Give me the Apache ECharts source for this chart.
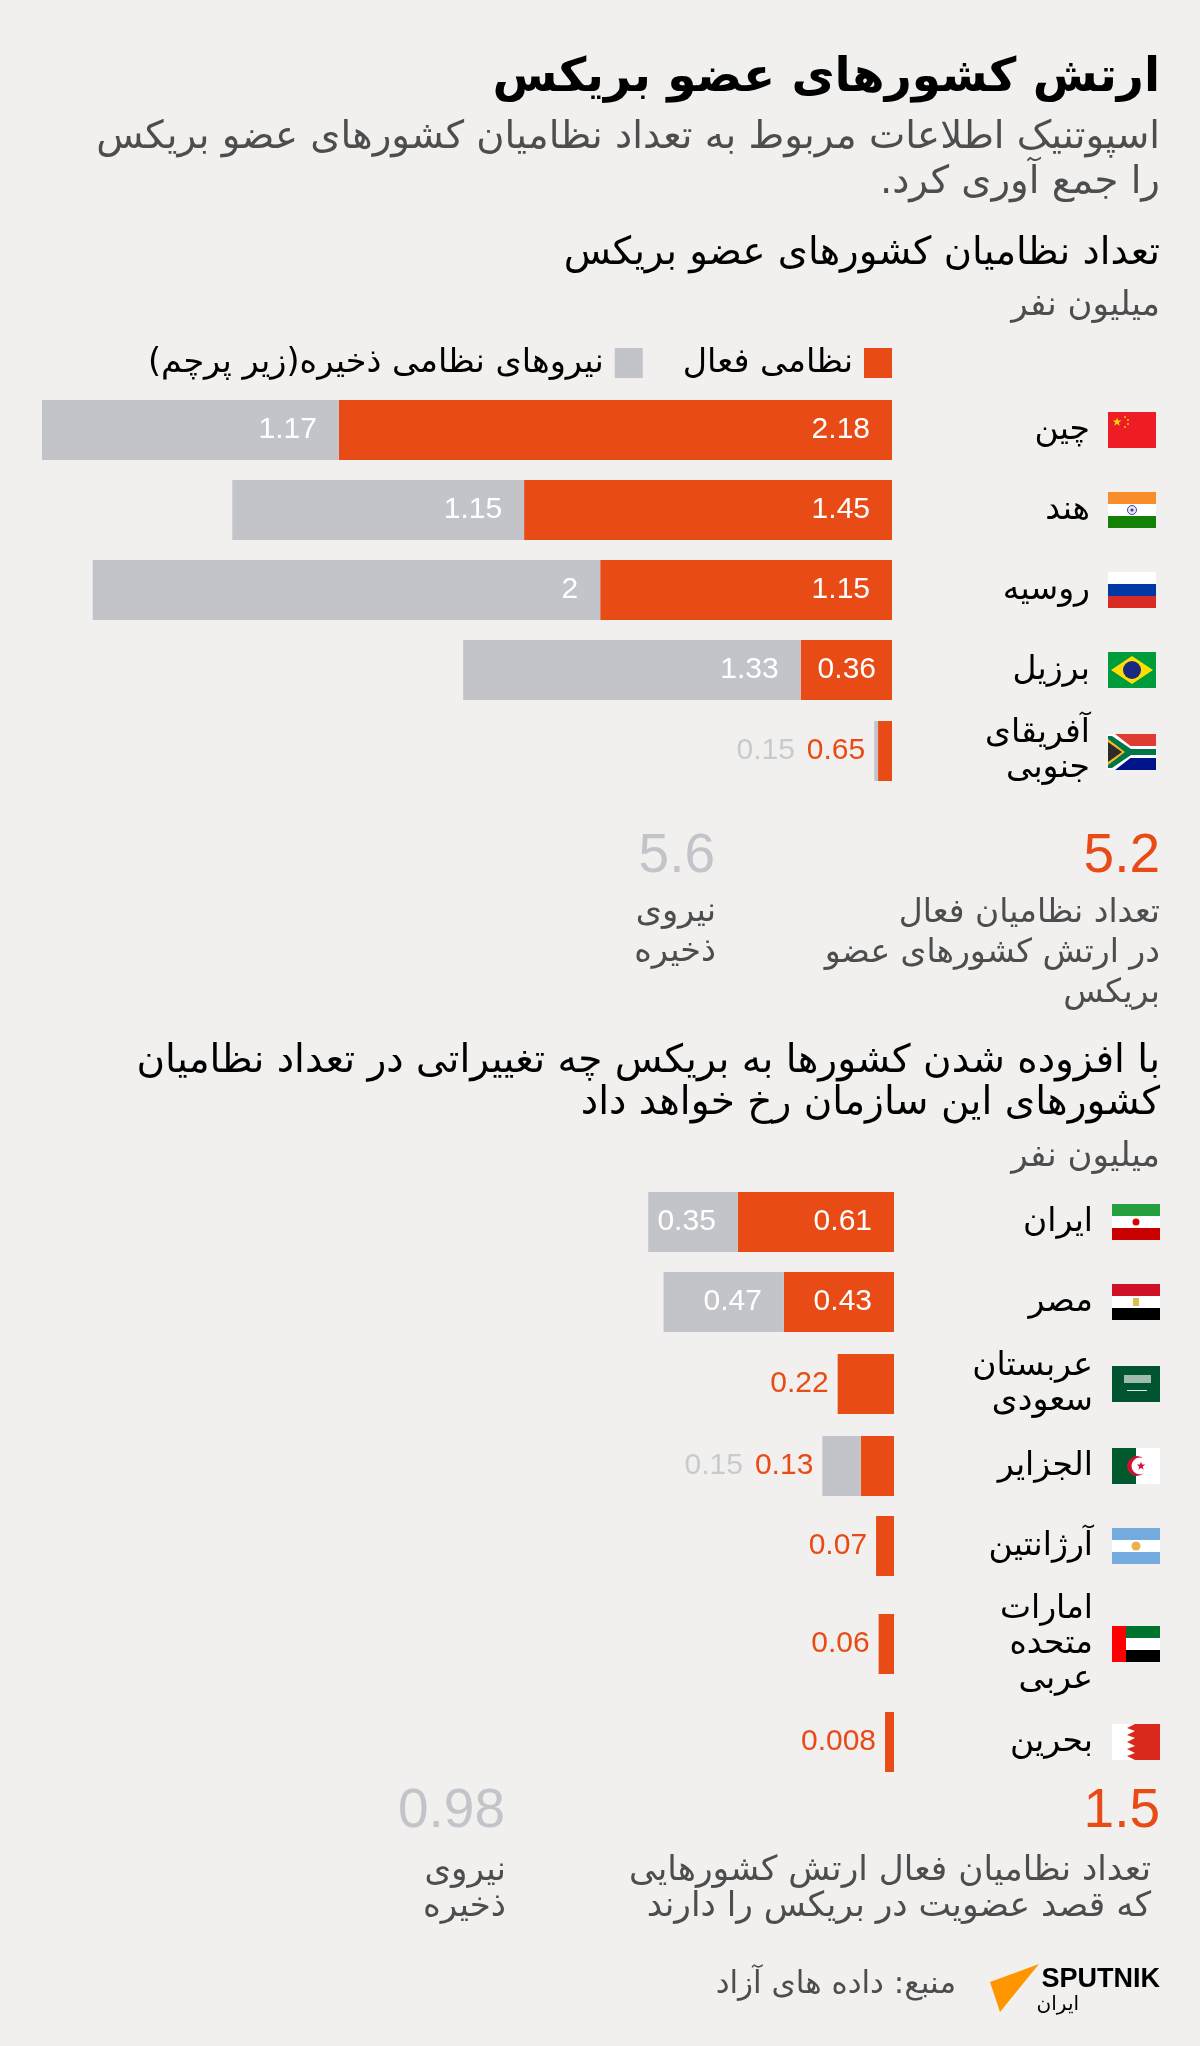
<!DOCTYPE html>
<html lang="fa" dir="rtl">
<head>
<meta charset="utf-8">
<title>ارتش کشورهای عضو بریکس</title>
<style>html,body{margin:0;padding:0;background:#f1f0ee;overflow:hidden}#c{width:1200px;height:2046px}</style>
<script src="https://cdn.jsdelivr.net/npm/echarts@6/dist/echarts.min.js"></script>
</head>
<body>
<div id="c"></div>
<script>
// ---------- data ----------
const membersNames = ['چین', 'هند', 'روسیه', 'برزیل', 'آفریقای\nجنوبی'];
const membersActive = [2.18, 1.45, 1.15, 0.36, 0.055];        // drawn bar length (South Africa is drawn far shorter than its printed label)
const membersReserve = [1.17, 1.15, 2, 1.33, 0.015];
const membersActiveLabels = ['2.18', '1.45', '1.15', '0.36', '0.65'];
const membersReserveLabels = ['1.17', '1.15', '2', '1.33', '0.15'];

const candidatesNames = ['ایران', 'مصر', 'عربستان\nسعودی', 'الجزایر', 'آرژانتین', 'امارات\nمتحده\nعربی', 'بحرین'];
const candidatesActive = [0.61, 0.43, 0.22, 0.13, 0.07, 0.06, 0.035]; // Bahrain is drawn longer than its printed label
const candidatesReserve = [0.35, 0.47, null, 0.15, null, null, null];
const candidatesActiveLabels = ['0.61', '0.43', '0.22', '0.13', '0.07', '0.06', '0.008'];
const candidatesReserveLabels = ['0.35', '0.47', '', '0.15', '', '', ''];

const activeName = 'نظامی فعال';
const reserveName = 'نیروهای نظامی ذخیره(زیر پرچم)';

// ---------- layout & style ----------
const ORANGE = '#e94b17', GREY = '#c3c4c9', LIGHT = '#c9cacd', INK = '#000', SOFT = '#4d4d4d', BG = '#f1f0ee';
const FONT = '"Liberation Sans","DejaVu Sans",sans-serif';
const AR = '"DejaVu Sans",sans-serif';
const PLOT_W = 850, BAR_H = 60;
const membersCenters = [430, 510, 590, 670, 751];
const candidatesCenters = [1222, 1302, 1384, 1466, 1546, 1644, 1742];
const membersInset = [22, 22, 22, 16, 22];

const grids = [], xAxes = [], yAxes = [], series = [];

function addRow(name, active, reserve, aLabel, rLabel, center, right, nameRight, inset, axisMax) {
  const i = grids.length;
  grids.push({ left: right - PLOT_W, top: center - BAR_H / 2, width: PLOT_W, height: BAR_H });
  xAxes.push({ type: 'value', gridIndex: i, inverse: true, min: 0, max: axisMax, show: false });
  yAxes.push({
    type: 'category', gridIndex: i, data: [name], position: 'right',
    axisLine: { show: false }, axisTick: { show: false }, splitLine: { show: false },
    axisLabel: { align: 'right', margin: nameRight - right, color: INK, fontFamily: AR, fontSize: 33, lineHeight: 35, interval: 0 }
  });
  const inside = v => v != null && v >= 0.3;
  const bothOutside = reserve != null && !inside(active) && !inside(reserve);
  series.push({
    type: 'bar', name: activeName, stack: 'r' + i, xAxisIndex: i, yAxisIndex: i, barWidth: BAR_H,
    itemStyle: { color: ORANGE }, silent: true,
    data: [active],
    label: {
      show: !bothOutside,
      position: inside(active) ? 'insideRight' : 'left',
      distance: inside(active) ? inset : 9,
      formatter: aLabel, color: inside(active) ? '#fff' : ORANGE, fontFamily: FONT, fontSize: 30
    }
  });
  series.push({
    type: 'bar', name: reserveName, stack: 'r' + i, xAxisIndex: i, yAxisIndex: i, barWidth: BAR_H,
    itemStyle: { color: GREY }, silent: true,
    data: [reserve],
    label: bothOutside ? {
      show: true, position: 'left', distance: 9,
      formatter: '{r|' + rLabel + '}{a|' + aLabel + '}',
      rich: {
        r: { color: LIGHT, fontFamily: FONT, fontSize: 30 },
        a: { color: ORANGE, fontFamily: FONT, fontSize: 30, padding: [0, 0, 0, 12] }
      }
    } : {
      show: reserve != null, position: 'insideRight', distance: 22,
      formatter: rLabel, color: '#fff', fontFamily: FONT, fontSize: 30
    }
  });
}
membersNames.forEach((n, i) => addRow(n, membersActive[i], membersReserve[i], membersActiveLabels[i], membersReserveLabels[i], membersCenters[i], 892, 1090, membersInset[i], 3.35));
candidatesNames.forEach((n, i) => addRow(n, candidatesActive[i], candidatesReserve[i], candidatesActiveLabels[i], candidatesReserveLabels[i], candidatesCenters[i], 894, 1093, 22, 3.32));

// ---------- flags (decorative, 48 x 36) ----------
const rect = (x, y, w, h, fill) => ({ type: 'rect', shape: { x, y, width: w, height: h }, style: { fill }, silent: true });
const poly = (points, fill, stroke, lw) => ({ type: 'polygon', shape: { points }, style: { fill, stroke, lineWidth: lw || 0 }, silent: true });
const circ = (cx, cy, r, fill, stroke, lw) => ({ type: 'circle', shape: { cx, cy, r }, style: { fill, stroke, lineWidth: lw || 0 }, silent: true });
function star(cx, cy, R, fill) {
  const p = [];
  for (let k = 0; k < 10; k++) {
    const r = k % 2 ? R * 0.4 : R, a = -Math.PI / 2 + k * Math.PI / 5;
    p.push([cx + r * Math.cos(a), cy + r * Math.sin(a)]);
  }
  return poly(p, fill);
}
const tri = (a, b, c, h) => [rect(0, 0, 48, h, a), rect(0, h, 48, 36 - 2 * h, b), rect(0, 36 - h, 48, h, c)];
const flags = {
  china: [rect(0, 0, 48, 36, '#ee1c25'), star(9, 10, 4.5, '#ffde00'), circ(17, 5, 0.9, '#ffde00'), circ(20, 8, 0.9, '#ffde00'), circ(20, 12, 0.9, '#ffde00'), circ(17, 15, 0.9, '#ffde00')],
  india: [...tri('#f98c2b', '#fff', '#138006', 12), circ(24, 18, 4.5, '#e8e8f4', '#3f3f9e', 1), circ(24, 18, 1.6, '#3f3f9e')],
  russia: tri('#fff', '#0039a6', '#d92b23', 12),
  brazil: [rect(0, 0, 48, 36, '#009b3a'), poly([[24, 4], [45, 18], [24, 32], [3, 18]], '#fedf00'), circ(24, 18, 9, '#1b2a80')],
  southAfrica: [rect(0, 0, 48, 18, '#e03c31'), rect(0, 18, 48, 18, '#001489'), rect(22, 12, 26, 12, '#fff'),
    poly([[0, 0], [7, 0], [25, 14], [48, 14], [48, 22], [25, 22], [7, 36], [0, 36]], '#fff'),
    poly([[0, 2], [4, 2], [23, 15], [48, 15], [48, 21], [23, 21], [4, 34], [0, 34]], '#007749'),
    poly([[0, 5], [17, 18], [0, 31]], '#ffb81c'), poly([[0, 8], [14, 18], [0, 28]], '#2b2b2b')],
  iran: [...tri('#239f40', '#fff', '#c90000', 12), circ(24, 18, 3.5, '#da0000')],
  egypt: [...tri('#ce1126', '#fff', '#000', 12), rect(21, 14, 6, 8, '#e2b857')],
  saudi: [rect(0, 0, 48, 36, '#005430'), rect(12, 9, 27, 8, '#9fbcae'), rect(15, 24, 20, 1, '#dfe9e4')],
  algeria: [rect(0, 0, 24, 36, '#005a2d'), rect(24, 0, 24, 36, '#fff'), circ(25, 18, 10, '#d21034'), circ(28, 18, 8.5, '#fff'), star(29, 18, 4.5, '#d21034')],
  argentina: [...tri('#74acdf', '#fff', '#74acdf', 12), circ(24, 18, 4.5, '#e9b44c')],
  uae: [rect(14, 0, 34, 12, '#00732f'), rect(14, 12, 34, 12, '#fff'), rect(14, 24, 34, 12, '#000'), rect(0, 0, 14, 36, '#ff0000')],
  bahrain: [rect(0, 0, 48, 36, '#da291c'), poly([[0, 0], [23, 0], [15, 4], [23, 7], [15, 11], [23, 14], [15, 18], [23, 22], [15, 25], [23, 29], [15, 32], [23, 36], [0, 36]], '#fff')]
};
const flagRows = [
  ['china', 1108, 412], ['india', 1108, 492], ['russia', 1108, 572], ['brazil', 1108, 652], ['southAfrica', 1108, 734],
  ['iran', 1112, 1204], ['egypt', 1112, 1284], ['saudi', 1112, 1366], ['algeria', 1112, 1448], ['argentina', 1112, 1528], ['uae', 1112, 1626], ['bahrain', 1112, 1724]
];
const flagGraphics = flagRows.map(([k, x, y]) => ({ type: 'group', x, y, silent: true, children: flags[k] }));

// ---------- free text ----------
const txt = (text, right, cy, size, color, lh, family, weight) => ({
  type: 'text', silent: true, x: right, y: cy,
  style: { text, align: 'right', verticalAlign: 'middle', fontSize: size, fontFamily: family || AR, fontWeight: weight || 'normal', fill: color, lineHeight: lh }
});
const texts = [
  txt('5.2', 1160, 857, 55, ORANGE, 60, FONT),
  txt('5.6', 715, 857, 55, GREY, 60, FONT),
  txt('تعداد نظامیان فعال\nدر ارتش کشورهای عضو\nبریکس', 1160, 953, 33, SOFT, 40),
  txt('نیروی\nذخیره', 716, 932, 33.5, SOFT, 40),
  txt('1.5', 1160, 1812, 55, ORANGE, 60, FONT),
  txt('0.98', 505, 1812, 55, GREY, 60, FONT),
  txt('تعداد نظامیان فعال ارتش کشورهایی\nکه قصد عضویت در بریکس را دارند', 1151, 1889, 34.4, SOFT, 36),
  txt('نیروی\nذخیره', 506, 1889, 34, SOFT, 36),
  txt('منبع: داده های آزاد', 956, 1985, 31, SOFT, 34),
  txt('SPUTNIK', 1160, 1980, 27, INK, 30, FONT, 'bold'),
  txt('ایران', 1079, 2005, 20, INK, 24)
];
const logo = { type: 'polygon', silent: true, shape: { points: [[1039, 1964], [990, 1982], [1000, 2012]] }, style: { fill: '#ff9600' } };

// ---------- option ----------
const head = (text, top, size, color, lh, weight) => ({
  text, left: 1160, top, textAlign: 'right',
  padding: 0,
  textStyle: { fontFamily: AR, fontSize: size, color, lineHeight: lh, fontWeight: weight || 'normal' }
});
const chart = echarts.init(document.getElementById('c'), null, { renderer: 'canvas', width: 1200, height: 2046 });
chart.setOption({
  animation: false,
  backgroundColor: BG,
  title: [
    head('ارتش کشورهای عضو بریکس', 48, 47, INK, 62, 'bold'),
    head('اسپوتنیک اطلاعات مربوط به تعداد نظامیان کشورهای عضو بریکس\nرا جمع آوری کرد.', 115, 38.6, SOFT, 45),
    head('تعداد نظامیان کشورهای عضو بریکس', 232, 38.6, INK, 44),
    head('میلیون نفر', 286, 34, SOFT, 40),
    head('با افزوده شدن کشورها به بریکس چه تغییراتی در تعداد نظامیان\nکشورهای این سازمان رخ خواهد داد', 1041, 39, INK, 42),
    head('میلیون نفر', 1137, 34, SOFT, 40)
  ],
  legend: {
    data: [reserveName, activeName], right: 308, top: 346, padding: 0, align: 'right', orient: 'horizontal',
    itemWidth: 28, itemHeight: 30, itemGap: 40, selectedMode: false, icon: 'rect',
    textStyle: { fontFamily: AR, fontSize: 33.5, color: INK, padding: [0, 6, 0, 0] }
  },
  grid: grids, xAxis: xAxes, yAxis: yAxes, series,
  graphic: { elements: [...flagGraphics, ...texts, logo] }
});
</script>
</body>
</html>
